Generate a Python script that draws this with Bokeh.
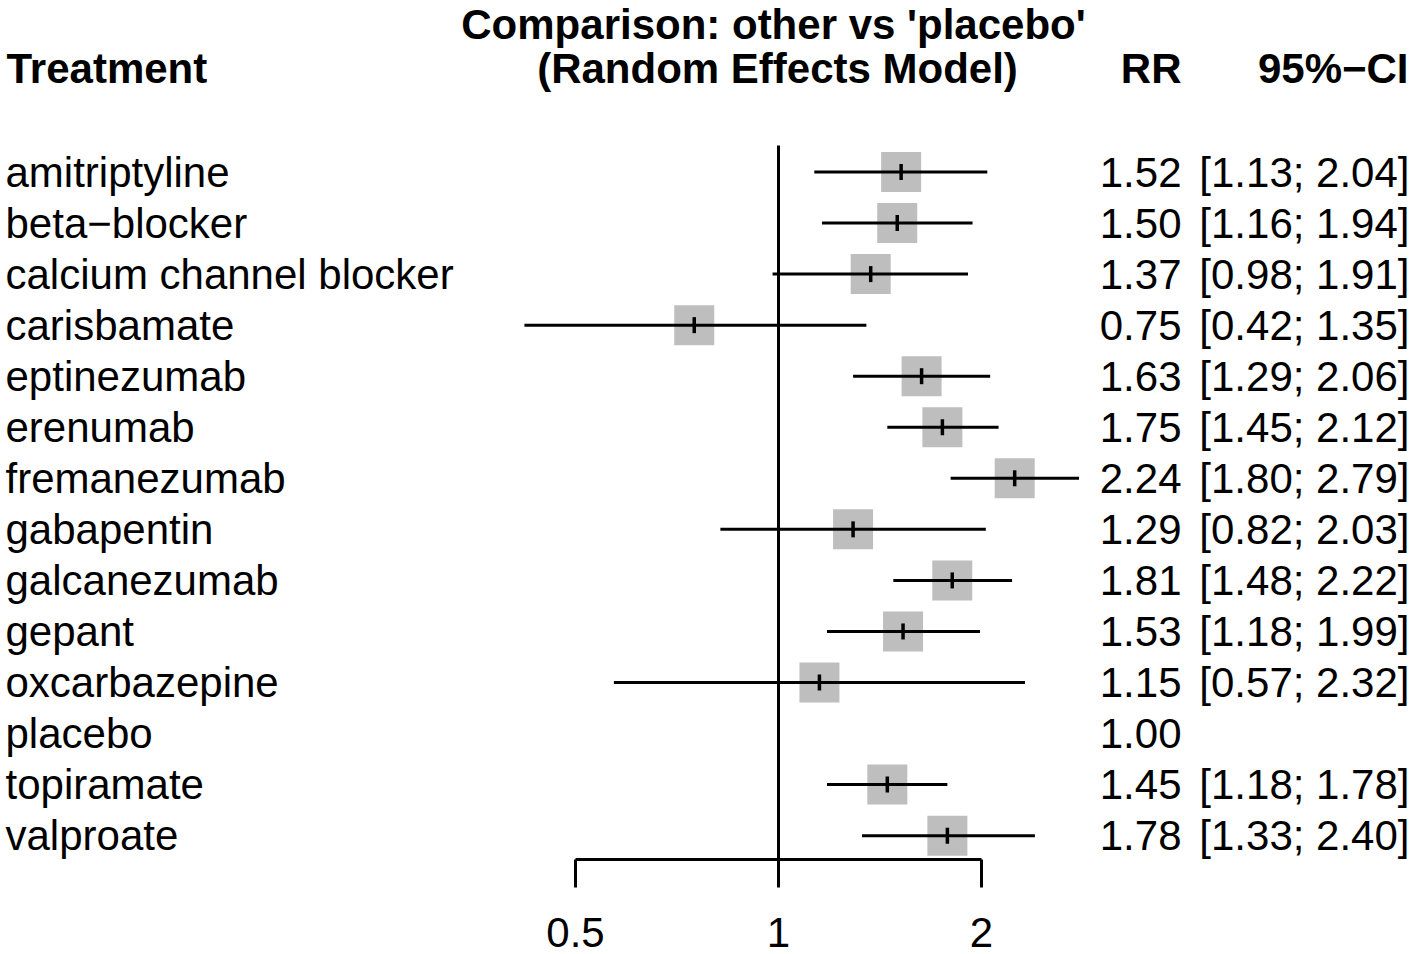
import math
from bokeh.plotting import figure
from bokeh.models import Range1d, FixedTicker, CustomJSTickFormatter, ColumnDataSource
from bokeh.core.properties import value
from bokeh.embed import file_html
from bokeh.resources import INLINE

# ---------------- data ----------------
treatments = ["amitriptyline", "beta\u2212blocker", "calcium channel blocker", "carisbamate",
              "eptinezumab", "erenumab", "fremanezumab", "gabapentin", "galcanezumab",
              "gepant", "oxcarbazepine", "placebo", "topiramate", "valproate"]
rr = [1.52, 1.50, 1.37, 0.75, 1.63, 1.75, 2.24, 1.29, 1.81, 1.53, 1.15, 1.00, 1.45, 1.78]
lower = [1.13, 1.16, 0.98, 0.42, 1.29, 1.45, 1.80, 0.82, 1.48, 1.18, 0.57, None, 1.18, 1.33]
upper = [2.04, 1.94, 1.91, 1.35, 2.06, 2.12, 2.79, 2.03, 2.22, 1.99, 2.32, None, 1.78, 2.40]
x_ticks = [0.5, 1, 2]
title_lines = ["Comparison: other vs 'placebo'", "(Random Effects Model)"]
col_headers = ["Treatment", "RR", "95%\u2212CI"]
reference_value = 1

# ---------------- layout ----------------
W, H = 1416, 954
X_ONE = 778             # pixel of RR = 1
PX_LOG2 = 203           # pixels per doubling
ROW0_Y = 171.5
ROW_STEP = 51.05
AXIS_Y = 859            # axis line / frame bottom
FONT = value("Liberation Sans")
FS = "42px"


def xv(img_x):
    return 2 ** ((img_x - X_ONE) / PX_LOG2)


def yv(img_y):
    return (img_y - ROW0_Y) / ROW_STEP


p = figure(width=W, height=H, x_axis_type="log",
           x_range=Range1d(xv(0), xv(W)),
           y_range=Range1d(yv(AXIS_Y), yv(0)),
           output_backend="svg", toolbar_location=None,
           y_axis_location=None, min_border=0,
           min_border_bottom=H - AXIS_Y)
p.outline_line_color = None
p.xgrid.visible = False
p.ygrid.visible = False
p.background_fill_color = "white"
p.border_fill_color = "white"

rows = list(range(len(treatments)))
has_ci = [i for i in rows if lower[i] is not None]

src = ColumnDataSource(dict(
    row=[rows[i] for i in has_ci],
    rr=[rr[i] for i in has_ci],
    lo=[lower[i] for i in has_ci],
    hi=[upper[i] for i in has_ci],
))

# reference line at RR = 1
p.segment(x0=[reference_value], x1=[reference_value], y0=[yv(145)], y1=[yv(AXIS_Y)],
          line_color="black", line_width=3)

# squares
p.scatter(x="rr", y="row", source=src, marker="square", size=40,
          fill_color="#BEBEBE", line_color=None)
# CI lines
p.segment(x0="lo", x1="hi", y0="row", y1="row", source=src,
          line_color="black", line_width=3)
# point estimate ticks
p.scatter(x="rr", y="row", source=src, marker="dash", angle=math.pi / 2, size=16,
          line_color="black", line_width=3.5)

# text columns
n = len(treatments)
p.text(x=[xv(5)] * n, y=rows, text=treatments, text_align="left",
       text_baseline="middle", text_font=FONT, text_font_size=FS, text_color="black")
p.text(x=[xv(1181)] * n, y=rows, text=[f"{v:.2f}" for v in rr], text_align="right",
       text_baseline="middle", text_font=FONT, text_font_size=FS, text_color="black")
ci_txt = [f"[{lo:.2f}; {hi:.2f}]" if lo is not None else "" for lo, hi in zip(lower, upper)]
p.text(x=[xv(1409)] * n, y=rows, text=ci_txt, text_align="right",
       text_baseline="middle", text_font=FONT, text_font_size=FS, text_color="black")

# headers
p.text(x=[xv(6), xv(1181), xv(1408)], y=[yv(68)] * 3, text=col_headers,
       text_align=["left", "right", "right"], text_baseline="middle",
       text_font=FONT, text_font_size=FS, text_font_style="bold", text_color="black")
p.text(x=[xv(773), xv(777)], y=[yv(24), yv(68)], text=title_lines,
       text_align="center", text_baseline="middle",
       text_font=FONT, text_font_size=FS, text_font_style="bold", text_color="black")

# axis
ax = p.xaxis[0]
ax.ticker = FixedTicker(ticks=x_ticks, minor_ticks=[])
ax.formatter = CustomJSTickFormatter(code="return String(tick)")
ax.bounds = (min(x_ticks), max(x_ticks))
ax.axis_line_color = "black"
ax.axis_line_width = 3
ax.major_tick_line_color = "black"
ax.major_tick_line_width = 3
ax.major_tick_out = 28
ax.major_tick_in = 0
ax.minor_tick_line_color = None
ax.major_label_standoff = 30
ax.major_label_text_font = "Liberation Sans"
ax.major_label_text_font_size = FS
ax.major_label_text_color = "black"

open("out.html", "w").write(file_html(p, INLINE))
